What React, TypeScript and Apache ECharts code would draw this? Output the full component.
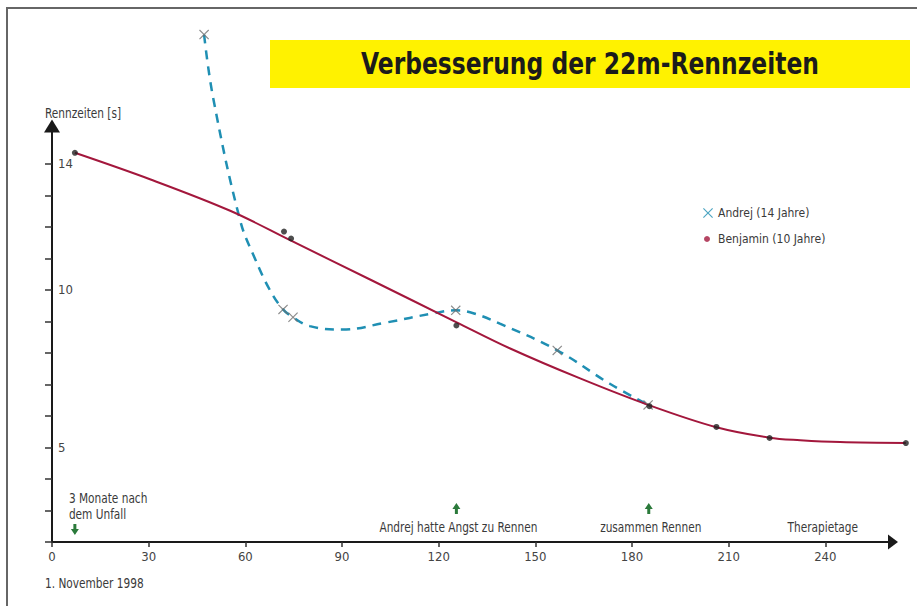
import React, { useEffect, useRef } from "react";
import * as echarts from "echarts";

const FONT = "'Liberation Sans Narrow', 'DejaVu Sans Condensed', sans-serif";
const NARROW = 0.84; // horizontal compression to imitate the condensed face

// Axis ticks / labels
const xTickValues = [0, 30, 60, 90, 120, 150, 180, 210, 240];
const yTickValues = [2, 3, 4, 5, 6, 7, 8, 9, 10, 11, 12, 13, 14];
const yLabelValues = [5, 10, 14];

// Axis extents
const X_AXIS_MAX = 261; // where the drawn arrow ends
const X_DATA_MAX = 266; // plotting extent, so the last point is not clipped
const Y_MIN = 2;
const Y_MAX = 15.2;

// Measured points [day, seconds]
const andrejPoints = [
  [47.2, 18.1],
  [71.7, 9.38],
  [74.8, 9.13],
  [125.3, 9.35],
  [156.8, 8.08],
  [185.0, 6.35],
];
const benjaminPoints = [
  [7.1, 14.35],
  [72.0, 11.85],
  [74.2, 11.63],
  [125.5, 8.87],
  [185.4, 6.31],
  [206.2, 5.65],
  [222.7, 5.3],
  [265.0, 5.14],
];

// Curves [day, seconds]
const andrejCurve = [
  [47.2, 18.1],
  [50, 16.1],
  [58.4, 12.2],
  [63, 10.99],
  [67.7, 9.98],
  [71.7, 9.38],
  [74.8, 9.13],
  [80, 8.85],
  [90, 8.74],
  [104, 8.97],
  [118, 9.25],
  [125.3, 9.35],
  [131, 9.25],
  [139, 8.93],
  [156.8, 8.08],
  [173, 7.03],
  [185, 6.35],
];
const benjaminCurve = [
  [7.1, 14.35],
  [30.4, 13.51],
  [55.3, 12.51],
  [74.2, 11.56],
  [98.7, 10.33],
  [125.4, 8.98],
  [142.2, 8.14],
  [163.9, 7.19],
  [185.3, 6.34],
  [206.2, 5.64],
  [222.6, 5.31],
  [232.2, 5.23],
  [244.6, 5.17],
  [265.0, 5.14],
];

const annotations = [
  { day: 7.1, lines: ["3 Monate nach", "dem Unfall"], arrow: "down" },
  { day: 125.5, lines: ["Andrej hatte Angst zu Rennen"], arrow: "up" },
  { day: 185.2, lines: ["zusammen Rennen"], arrow: "up" },
];

const CROSS =
  "path://M0,0.8L0.8,0L5,4.2L9.2,0L10,0.8L5.8,5L10,9.2L9.2,10L5,5.8L0.8,10L0,9.2L4.2,5Z";

const TEAL = "#1f8fb3";
const CRIMSON = "#a3173c";
const GREEN = "#2b7a3b";
const TEXT = "#3a3a3a";

const W = 917;
const GRID_LEFT = 52;
const GRID_RIGHT = 24;
const GRID_TOP = 126;
const GRID_BOTTOM = 64;

export default function App() {
  const ref = useRef<HTMLDivElement>(null);

  useEffect(() => {
    if (!ref.current) return;
    const chart = echarts.init(ref.current, null, { renderer: "svg" });
    const legendText = { fontFamily: FONT, fontSize: 12, color: TEXT };

    // second (plotting) grid shares the same scale but reaches a little further right
    const pxPerDay = (W - GRID_LEFT - GRID_RIGHT) / X_AXIS_MAX;
    const plotRight = W - GRID_LEFT - X_DATA_MAX * pxPerDay;

    chart.setOption({
      animation: false,
      legend: [
        {
          data: [
            { name: "Andrej (14 Jahre)", icon: CROSS, itemStyle: { color: TEAL } },
          ],
          left: 698,
          top: 202,
          orient: "vertical",
          itemWidth: 10,
          itemHeight: 10,
          selectedMode: false,
          textStyle: legendText,
        },
        {
          data: [
            { name: "Benjamin (10 Jahre)", icon: "circle", itemStyle: { color: CRIMSON } },
          ],
          left: 699,
          top: 228,
          orient: "vertical",
          itemWidth: 6,
          itemHeight: 6,
          selectedMode: false,
          textStyle: { ...legendText, padding: [0, 0, 0, 3] },
        },
      ],
      grid: [
        { left: GRID_LEFT, right: GRID_RIGHT, top: GRID_TOP, bottom: GRID_BOTTOM },
        { left: GRID_LEFT, right: plotRight, top: GRID_TOP, bottom: GRID_BOTTOM },
      ],
      xAxis: [
        {
          type: "value",
          gridIndex: 0,
          min: 0,
          max: X_AXIS_MAX,
          axisLine: {
            show: true,
            symbol: ["none", "triangle"],
            symbolSize: [15, 10],
            lineStyle: { color: "#1a1a1a", width: 2 },
          },
          axisTick: {
            show: true,
            customValues: xTickValues,
            length: 5,
            lineStyle: { color: "#333", width: 1.5 },
          },
          axisLabel: {
            customValues: xTickValues,
            margin: 8,
            fontFamily: FONT,
            fontSize: 13,
            color: "#444",
          },
          splitLine: { show: false },
        },
        {
          type: "value",
          gridIndex: 1,
          min: 0,
          max: X_DATA_MAX,
          show: false,
        },
      ],
      yAxis: [
        {
          type: "value",
          gridIndex: 0,
          min: Y_MIN,
          max: Y_MAX,
          axisLine: {
            show: true,
            symbol: ["none", "triangle"],
            symbolSize: [16, 13],
            lineStyle: { color: "#1a1a1a", width: 2 },
          },
          axisTick: {
            show: true,
            customValues: yTickValues,
            length: 7,
            lineStyle: { color: "#333", width: 1.5 },
          },
          axisLabel: {
            customValues: yLabelValues,
            inside: true,
            margin: 6,
            fontFamily: FONT,
            fontSize: 13,
            color: "#444",
          },
          splitLine: { show: false },
        },
        {
          type: "value",
          gridIndex: 1,
          min: Y_MIN,
          max: Y_MAX,
          show: false,
        },
      ],
      series: [
        {
          name: "Andrej (14 Jahre)",
          type: "scatter",
          xAxisIndex: 1,
          yAxisIndex: 1,
          data: andrejPoints,
          symbol: CROSS,
          symbolSize: 10,
          itemStyle: { color: "#6e6e6e" },
          clip: false,
          z: 4,
        },
        {
          name: "Benjamin (10 Jahre)",
          type: "scatter",
          xAxisIndex: 1,
          yAxisIndex: 1,
          data: benjaminPoints,
          symbol: "circle",
          symbolSize: 6,
          itemStyle: { color: "#222" },
          clip: false,
          z: 4,
        },
        {
          name: "Andrej Verlauf",
          type: "line",
          xAxisIndex: 1,
          yAxisIndex: 1,
          data: andrejCurve,
          smooth: 0.4,
          showSymbol: false,
          clip: false,
          silent: true,
          lineStyle: { color: TEAL, width: 2.5, type: [9, 7] },
          z: 2,
        },
        {
          name: "Benjamin Verlauf",
          type: "line",
          xAxisIndex: 1,
          yAxisIndex: 1,
          data: benjaminCurve,
          smooth: 0.35,
          showSymbol: false,
          clip: false,
          silent: true,
          lineStyle: { color: CRIMSON, width: 2 },
          z: 3,
        },
      ],
    });

    const axisY = chart.convertToPixel({ yAxisIndex: 0 }, Y_MIN) as number;
    const txt = (text: string, x: number, y: number, align: string) => ({
      type: "text",
      x,
      y,
      scaleX: NARROW,
      z: 20,
      style: {
        text,
        fontFamily: FONT,
        fontSize: 14,
        lineHeight: 16,
        fill: TEXT,
        align,
        verticalAlign: "middle",
      },
    });

    const graphics: any[] = [
      {
        type: "rect",
        z: -10,
        shape: { x: 270, y: 40, width: 640, height: 48 },
        style: { fill: "#fff200" },
      },
      {
        type: "text",
        x: 590,
        y: 63,
        scaleX: NARROW,
        z: 20,
        style: {
          text: "Verbesserung der 22m-Rennzeiten",
          fontFamily: FONT,
          fontWeight: "bold",
          fontSize: 31,
          fill: "#1b1b1b",
          align: "center",
          verticalAlign: "middle",
        },
      },
      {
        type: "rect",
        z: 100,
        shape: { x: 7, y: 8, width: 940, height: 640 },
        style: { fill: "none", stroke: "#666", lineWidth: 2 },
      },
      txt("Rennzeiten [s]", 45, 113, "left"),
      txt("Therapietage", 858, axisY - 15, "right"),
      txt("1. November 1998", 45, 583, "left"),
    ];

    annotations.forEach((a) => {
      const cx = chart.convertToPixel({ xAxisIndex: 0 }, a.day) as number;
      if (a.arrow === "up") {
        const top = axisY - 39;
        graphics.push({
          type: "polygon",
          shape: {
            points: [
              [cx, top],
              [cx + 4, top + 6],
              [cx + 1.5, top + 6],
              [cx + 1.5, top + 11],
              [cx - 1.5, top + 11],
              [cx - 1.5, top + 6],
              [cx - 4, top + 6],
            ],
          },
          style: { fill: GREEN },
        });
        graphics.push(txt(a.lines.join("\n"), cx + 2, axisY - 15, "center"));
      } else {
        const bot = axisY - 7;
        graphics.push({
          type: "polygon",
          shape: {
            points: [
              [cx, bot],
              [cx + 4, bot - 6],
              [cx + 1.5, bot - 6],
              [cx + 1.5, bot - 11],
              [cx - 1.5, bot - 11],
              [cx - 1.5, bot - 6],
              [cx - 4, bot - 6],
            ],
          },
          style: { fill: GREEN },
        });
        graphics.push(txt(a.lines.join("\n"), cx - 6, axisY - 36, "left"));
      }
    });

    chart.setOption({ graphic: graphics });

    return () => chart.dispose();
  }, []);

  return (
    <div
      ref={ref}
      style={{ position: "absolute", left: 0, top: 0, width: W, height: 606 }}
    />
  );
}
